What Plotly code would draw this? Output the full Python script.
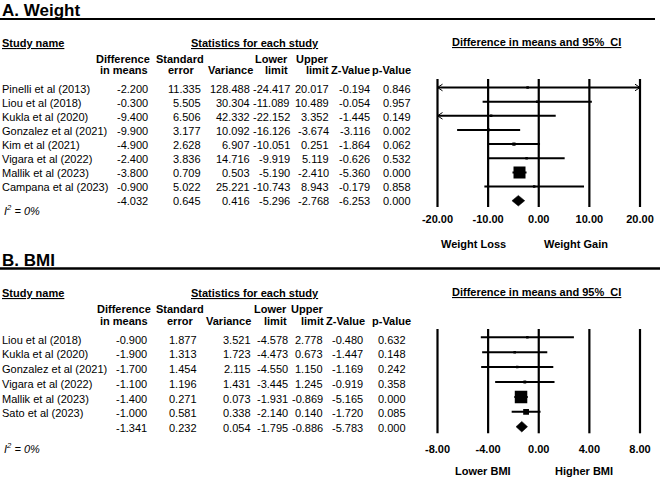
import numpy as np
import plotly.graph_objects as go

W, H = 661, 484
FONT = "Liberation Sans, Arial, sans-serif"

# ---------------- data: A. Weight ----------------
studies_A = ["Pinelli et al (2013)", "Liou et al (2018)", "Kukla et al (2020)",
             "Gonzalez et al (2021)", "Kim et al (2021)", "Vigara et al (2022)",
             "Mallik et al (2023)", "Campana et al (2023)"]
diff_A = [-2.200, -0.300, -9.400, -9.900, -4.900, -2.400, -3.800, -0.900]
se_A = [11.335, 5.505, 6.506, 3.177, 2.628, 3.836, 0.709, 5.022]
var_A = [128.488, 30.304, 42.332, 10.092, 6.907, 14.716, 0.503, 25.221]
lower_A = [-24.417, -11.089, -22.152, -16.126, -10.051, -9.919, -5.190, -10.743]
upper_A = [20.017, 10.489, 3.352, -3.674, 0.251, 5.119, -2.410, 8.943]
z_A = [-0.194, -0.054, -1.445, -3.116, -1.864, -0.626, -5.360, -0.179]
p_A = [0.846, 0.957, 0.149, 0.002, 0.062, 0.532, 0.000, 0.858]
summary_A = [-4.032, 0.645, 0.416, -5.296, -2.768, -6.253, 0.000]
ticks_A = [-20, -10, 0, 10, 20]
tick_labels_A = ["-20.00", "-10.00", "0.00", "10.00", "20.00"]
favours_A = ["Weight Loss", "Weight Gain"]

# ---------------- data: B. BMI ----------------
studies_B = ["Liou et al (2018)", "Kukla et al (2020)", "Gonzalez et al (2021)",
             "Vigara et al (2022)", "Mallik et al (2023)", "Sato et al (2023)"]
diff_B = [-0.900, -1.900, -1.700, -1.100, -1.400, -1.000]
se_B = [1.877, 1.313, 1.454, 1.196, 0.271, 0.581]
var_B = [3.521, 1.723, 2.115, 1.431, 0.073, 0.338]
lower_B = [-4.578, -4.473, -4.550, -3.445, -1.931, -2.140]
upper_B = [2.778, 0.673, 1.150, 1.245, -0.869, 0.140]
z_B = [-0.480, -1.447, -1.169, -0.919, -5.165, -1.720]
p_B = [0.632, 0.148, 0.242, 0.358, 0.000, 0.085]
summary_B = [-1.341, 0.232, 0.054, -1.795, -0.886, -5.783, 0.000]
ticks_B = [-8, -4, 0, 4, 8]
tick_labels_B = ["-8.00", "-4.00", "0.00", "4.00", "8.00"]
favours_B = ["Lower BMI", "Higher BMI"]

heterogeneity = "<i>I<sup>2</sup> = 0%</i>"

# ---------------- layout constants (pixels) ----------------
PANELS = [
    dict(title="A. Weight", title_y=10, rule_y=19, rule_x1=655, rule_w=2,
         head_y=43, ci_head_y=42, h1=59, h2=70, row0=89, rowh=14.06, i2_y=210,
         f_row0=87.5, f_rowh=14.15, v_top=79, v_bot=207, fav_y=244,
         fav_x=[473, 576], standoff=4, marker_max=12,
         cols=[148, 200.5, 249.5, 289.5, 328.5, 370, 410.5],
         hcols=dict(diff=(150, 148.3), se=(204, 194), var=252.7, lo=288, up=328.5, z=370, p=410.5),
         axis=("xaxis", "yaxis", "x", "y")),
    dict(title="B. BMI", title_y=260, rule_y=268.5, rule_x1=660, rule_w=2.5,
         head_y=292.5, ci_head_y=292, h1=309, h2=320.5, row0=339.5, rowh=14.75, i2_y=448,
         f_row0=337.3, f_rowh=14.9, v_top=329, v_bot=433.3, fav_y=471,
         fav_x=[483, 584], standoff=8, marker_max=12.5,
         cols=[147, 197, 251, 287.5, 323, 363, 406],
         hcols=dict(diff=(150.7, 148.3), se=(204, 192.7), var=250.7, lo=287, up=323.5, z=365, p=411),
         axis=("xaxis2", "yaxis2", "x2", "y2")),
]
X_LEFT, X_RIGHT, PAD = 437.5, 640.0, 3.0

datasets = [
    dict(studies=studies_A, diff=diff_A, se=se_A, var=var_A, lo=lower_A, up=upper_A,
         z=z_A, p=p_A, summ=summary_A, ticks=ticks_A, tlabels=tick_labels_A, fav=favours_A),
    dict(studies=studies_B, diff=diff_B, se=se_B, var=var_B, lo=lower_B, up=upper_B,
         z=z_B, p=p_B, summ=summary_B, ticks=ticks_B, tlabels=tick_labels_B, fav=favours_B),
]


def ann(x, y, text, size=11, bold=False, xanchor="left"):
    return dict(x=x / W, y=1 - y / H, xref="paper", yref="paper", text=text,
                showarrow=False, xanchor=xanchor, yanchor="middle",
                borderpad=0, borderwidth=0,
                font=dict(family=FONT, size=size, color="black",
                          weight="bold" if bold else "normal"))


fig = go.Figure()
annotations, shapes, layout_axes = [], [], {}

for P, D in zip(PANELS, datasets):
    xa_name, ya_name, xr, yr = P["axis"]
    xmin, xmax = D["ticks"][0], D["ticks"][-1]
    s = (X_RIGHT - X_LEFT) / (xmax - xmin)  # px per unit
    n = len(D["studies"])

    f_row0, f_rowh = P["f_row0"], P["f_rowh"]
    layout_axes[xa_name] = dict(
        domain=[(X_LEFT - PAD) / W, (X_RIGHT + PAD) / W],
        range=[xmin - PAD / s, xmax + PAD / s],
        anchor=yr, tickvals=D["ticks"], ticktext=D["tlabels"], ticks="",
        showgrid=False, zeroline=False, showline=False, fixedrange=True,
        automargin=False, ticklabelstandoff=P["standoff"],
        tickfont=dict(family=FONT, size=11, color="black", weight="bold"))
    layout_axes[ya_name] = dict(
        domain=[1 - P["v_bot"] / H, 1 - P["v_top"] / H],
        range=[(P["v_bot"] - f_row0) / f_rowh, (P["v_top"] - f_row0) / f_rowh],
        anchor=xr, showticklabels=False, showgrid=False, zeroline=False,
        showline=False, ticks="", fixedrange=True, automargin=False)

    # vertical reference lines at the tick values
    for t in D["ticks"]:
        shapes.append(dict(type="line", xref=xr, yref=f"{yr} domain", x0=t, x1=t,
                           y0=0, y1=1, line=dict(color="black", width=2.2)))

    # confidence-interval lines, clipped to the axis limits
    lo_c = np.clip(D["lo"], xmin, xmax)
    up_c = np.clip(D["up"], xmin, xmax)
    lx, ly = [], []
    for i in range(n):
        lx += [lo_c[i], up_c[i], None]
        ly += [i, i, None]
    fig.add_trace(go.Scatter(x=lx, y=ly, xaxis=xr, yaxis=yr, mode="lines",
                             line=dict(color="black", width=2), hoverinfo="skip",
                             showlegend=False))

    # arrow heads where an interval runs past the axis limits
    dx, dy = 5 / s, 3.3 / f_rowh
    ax_, ay_ = [], []
    for i in range(n):
        if D["lo"][i] < xmin:
            ax_ += [xmin + dx, xmin, xmin + dx, None]
            ay_ += [i - dy, i, i + dy, None]
        if D["up"][i] > xmax:
            ax_ += [xmax - dx, xmax, xmax - dx, None]
            ay_ += [i - dy, i, i + dy, None]
    if ax_:
        fig.add_trace(go.Scatter(x=ax_, y=ay_, xaxis=xr, yaxis=yr, mode="lines",
                                 line=dict(color="black", width=1), hoverinfo="skip",
                                 showlegend=False))

    # squares sized by inverse-variance weight
    w = 1 / np.array(D["var"])
    sizes = np.maximum(2.5, P["marker_max"] * np.sqrt(w / w.max()))
    fig.add_trace(go.Scatter(x=D["diff"], y=list(range(n)), xaxis=xr, yaxis=yr,
                             mode="markers",
                             marker=dict(symbol="square", size=sizes, color="black",
                                         opacity=1, line=dict(width=0)),
                             hoverinfo="skip", showlegend=False))

    # summary diamond
    est, lo_s, up_s = D["summ"][0], D["summ"][3], D["summ"][4]
    h = 5.3 / f_rowh
    fig.add_trace(go.Scatter(x=[lo_s, est, up_s, est, lo_s], y=[n, n - h, n, n + h, n],
                             xaxis=xr, yaxis=yr, mode="lines", fill="toself",
                             fillcolor="black", line=dict(color="black", width=0.5),
                             hoverinfo="skip", showlegend=False))

    # ---------------- text ----------------
    annotations.append(ann(2, P["title_y"], P["title"], size=17, bold=True))
    shapes.append(dict(type="line", xref="paper", yref="paper", x0=0, x1=P["rule_x1"] / W,
                       y0=1 - P["rule_y"] / H, y1=1 - P["rule_y"] / H,
                       line=dict(color="black", width=P["rule_w"])))
    annotations.append(ann(2, P["head_y"], "<u>Study name</u>", bold=True))
    annotations.append(ann(254.5, P["head_y"], "<u>Statistics for each study</u>",
                           bold=True, xanchor="center"))
    annotations.append(ann(536.5, P["ci_head_y"], "<u>Difference in means and 95%\u00a0 CI</u>",
                           bold=True, xanchor="center"))
    hc = P["hcols"]
    for x, y, t in [(hc["diff"][0], P["h1"], "Difference"), (hc["diff"][1], P["h2"], "in means"),
                    (hc["se"][0], P["h1"], "Standard"), (hc["se"][1], P["h2"], "error"),
                    (hc["var"], P["h2"], "Variance"),
                    (hc["lo"], P["h1"], "Lower"), (hc["lo"], P["h2"], "limit"),
                    (hc["up"], P["h1"], "Upper"), (hc["up"], P["h2"], "limit"),
                    (hc["z"], P["h2"], "Z-Value"), (hc["p"], P["h2"], "p-Value")]:
        annotations.append(ann(x, y, t, bold=True, xanchor="right"))

    cols = P["cols"]
    for i in range(n + 1):
        y = P["row0"] + i * P["rowh"]
        if i < n:
            annotations.append(ann(2, y, D["studies"][i]))
            vals = [D["diff"][i], D["se"][i], D["var"][i], D["lo"][i], D["up"][i],
                    D["z"][i], D["p"][i]]
        else:
            vals = D["summ"]
        for cx, v in zip(cols, vals):
            annotations.append(ann(cx, y, f"{v:.3f}", xanchor="right"))
    annotations.append(ann(4, P["i2_y"], heterogeneity))

    for fx, t in zip(P["fav_x"], D["fav"]):
        annotations.append(ann(fx, P["fav_y"], t, bold=True, xanchor="center"))

fig.update_layout(width=W, height=H, autosize=False,
                  margin=dict(l=0, r=0, t=0, b=0, pad=0, autoexpand=False),
                  paper_bgcolor="white", plot_bgcolor="rgba(0,0,0,0)",
                  annotations=annotations, shapes=shapes, showlegend=False,
                  hovermode=False, **layout_axes)

# place the figure flush with the page corner (no default body margin)
fig.write_html("out.html",
               config={"displayModeBar": False, "staticPlot": True},
               post_script="document.body.style.margin='0';"
                           "document.documentElement.style.overflow='hidden';")
